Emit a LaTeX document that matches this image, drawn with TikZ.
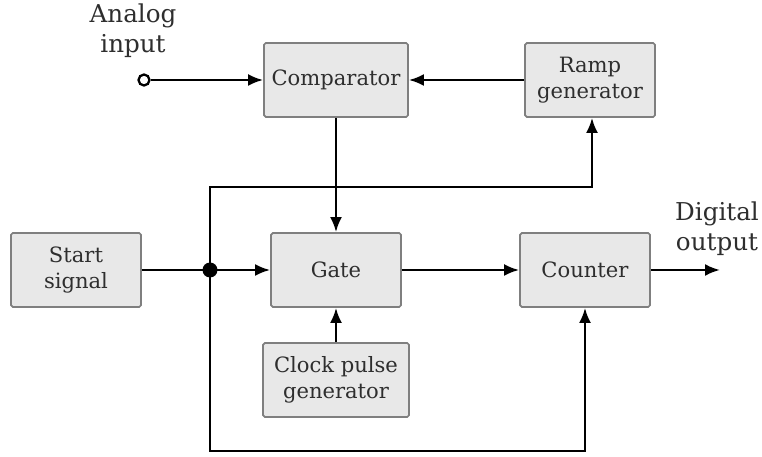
\documentclass[tikz,border=0pt]{standalone}
\usepackage{fontspec}
\setmainfont{DejaVu Serif}
\usepackage{xcolor}
\definecolor{boxfill}{HTML}{E8E8E8}
\definecolor{boxline}{HTML}{7F7F7F}
\definecolor{textdark}{HTML}{2E2E2E}
\usetikzlibrary{arrows.meta, positioning, calc}

\begin{document}
\begin{tikzpicture}[
        font=\fontsize{12}{15}\selectfont,
        block_box/.style={
            rectangle,
            rounded corners=1pt,
            draw=boxline,
            line width=1pt,
            fill=boxfill,
            text=textdark,
            align=center,
            minimum width=2.6cm,
            minimum height=1.48cm
        },
        label_text/.style={
            align=center,
            text=textdark,
            font=\fontsize{14}{17}\selectfont
        },
        arrow/.style={
            -{Latex[length=0.3cm, width=0.24cm]},
            draw=black,
            line width=1.4pt
        },
        line/.style={
            draw=black,
            line width=1.4pt
        }
    ]
    \useasboundingbox (0,0) rectangle (15.24,9.12);

    % Blocks
    \node[block_box, minimum width=2.88cm] (comparator) at (6.72,7.52) {Comparator};
    \node[block_box] (ramp) at (11.8,7.52) {Ramp\\generator};
    \node[block_box] (start) at (1.52,3.72) {Start\\signal};
    \node[block_box] (gate) at (6.72,3.72) {Gate};
    \node[block_box] (counter) at (11.7,3.72) {Counter};
    \node[block_box, minimum width=2.92cm] (clock) at (6.72,1.52) {Clock pulse\\generator};

    % Input and output
    \node[circle, draw=black, line width=1.3pt, fill=white, inner sep=0pt, minimum size=0.22cm] (ain) at (2.88,7.52) {};
    \node[label_text] (ain_label) at (2.66,8.5) {Analog\\input};
    \coordinate (dout) at (14.4,3.72);
    \node[label_text] (dout_label) at (14.34,4.54) {Digital\\output};

    % Junction
    \node[circle, fill=black, inner sep=0pt, minimum size=0.3cm] (split) at (4.2,3.72) {};

    % Main flow arrows
    \draw[arrow] (ain) -- (comparator.west);
    \draw[arrow] (ramp.west) -- (comparator.east);
    \draw[arrow] (comparator.south) -- (gate.north);
    \draw[line] (start.east) -- (split.center);
    \draw[arrow] (split.center) -- (gate.west);
    \draw[arrow] (clock.north) -- (gate.south);
    \draw[arrow] (gate.east) -- (counter.west);
    \draw[arrow] (counter.east) -- (dout);

    % Feedback lines
    \draw[arrow] (split.center) -- ++(0,1.66) -| ([xshift=0.04cm]ramp.south);
    \draw[arrow] (split.center) -- ++(0,-3.62) -| (counter.south);

\end{tikzpicture}
\end{document}
